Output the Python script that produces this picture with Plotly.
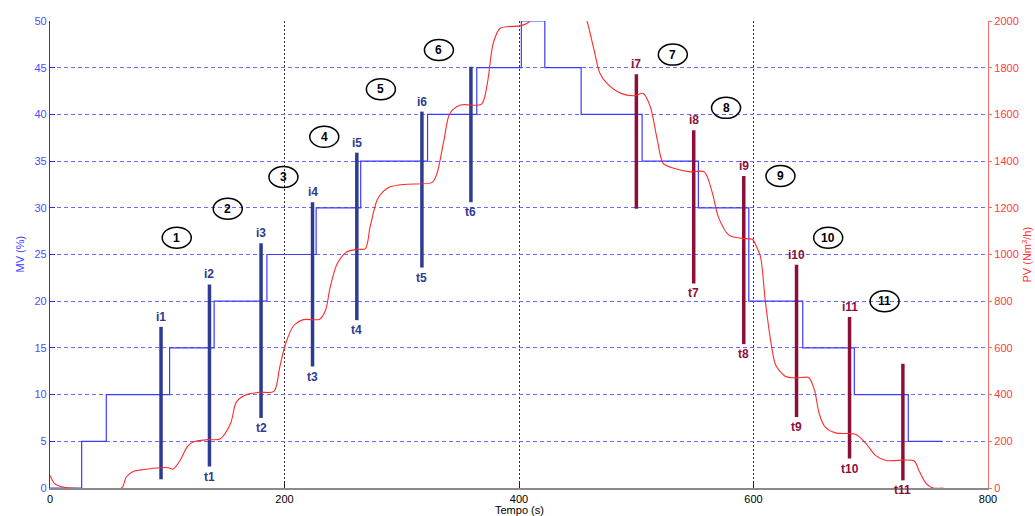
import plotly.graph_objects as go

# Manipulated variable (MV, %) — step changes over time
mv_t = [0, 27, 48, 102, 140, 185, 227, 265, 322, 364, 402, 422, 453, 505, 553, 596, 642, 686, 732, 761]
mv = [0, 5, 10, 15, 20, 25, 30, 35, 40, 45, 50, 45, 40, 35, 30, 20, 15, 10, 5, 5]

# Process variable (PV, Nm3/h) response
pv_t = [0, 4, 11, 17, 61, 65, 71, 80, 94, 101,
        105, 111, 117, 122, 134, 145, 154, 159, 168, 179,
        191, 196, 201, 208, 216, 230, 235, 239, 245, 253,
        262, 269, 273, 279, 284, 290, 304, 326, 330, 336,
        341, 350, 368, 373, 378, 384, 401, 407, 411, 420,
        432, 445, 452, 458, 464, 469, 475, 487, 498, 506,
        512, 518, 523, 532, 546, 558, 565, 570, 579, 590,
        599, 602, 606, 610, 615, 619, 627, 637, 647, 652,
        656, 661, 670, 687, 696, 704, 713, 737, 741, 747,
        753, 762]
pv = [54, 19, 4, 0, 0, 47, 71, 79, 87, 87,
      81, 119, 176, 197, 207, 210, 276, 369, 401, 410,
      414, 519, 619, 697, 721, 723, 761, 861, 961, 1011,
      1022, 1025, 1118, 1233, 1269, 1290, 1301, 1309, 1347, 1490,
      1604, 1640, 1644, 1733, 1905, 1969, 1979, 1990, 2010, 2080,
      2140, 2140, 2080, 2000, 1876, 1776, 1733, 1690, 1680, 1690,
      1633, 1490, 1390, 1369, 1354, 1354, 1262, 1161, 1083, 1069,
      1065, 1040, 990, 804, 619, 526, 479, 471, 473, 419,
      319, 262, 236, 230, 190, 140, 118, 116, 76, 21,
      0, 0]

# Marker bars: time, MV span, label above, label below, group
bar_t = [94.7, 136, 180, 223.9, 261.7, 317.2, 359, 500.1, 549, 591.7, 636.7, 681.9, 727.4]
bar_top = [17.25, 21.8, 26.2, 30.6, 35.9, 40.3, 45.1, 44.3, 38.3, 33.4, 23.9, 18.3, 13.3]
bar_bot = [0.93, 2.3, 7.5, 13.0, 17.97, 23.6, 30.6, 29.9, 21.9, 15.4, 7.6, 3.15, 0.82]
bar_top_lbl = ["i1", "i2", "i3", "i4", "i5", "i6", "", "i7", "i8", "i9", "i10", "i11", ""]
bar_bot_lbl = ["", "t1", "t2", "t3", "t4", "t5", "t6", "", "t7", "t8", "t9", "t10", "t11"]
bar_up = [True] * 7 + [False] * 6

# Circled stage numbers
stage_lbl = ["1", "2", "3", "4", "5", "6", "7", "8", "9", "10", "11"]
stage_t = [108.1, 151.6, 199.1, 233.9, 282.2, 331.7, 531.2, 576.6, 623.0, 663.7, 711.8]
stage_mv = [26.8, 29.9, 33.3, 37.6, 42.7, 46.9, 46.4, 40.7, 33.4, 26.8, 20.0]

x_ticks = [0, 200, 400, 600, 800]

BLUE_BAR = "#2e3b92"
RED_BAR = "#8c0f3a"
FONT = "Liberation Sans, Arial, sans-serif"

fig = go.Figure()

fig.add_trace(go.Scatter(x=mv_t, y=mv, mode="lines", line=dict(color="#3b3bff", width=1.2, shape="hv"),
                         yaxis="y", showlegend=False, hoverinfo="skip"))
fig.add_trace(go.Scatter(x=pv_t, y=pv, mode="lines",
                         line=dict(color="#ff2b2b", width=1.1, shape="spline", smoothing=0.8),
                         yaxis="y2", showlegend=False, hoverinfo="skip"))

annotations = []
for t, top, bot, lt, lb, up in zip(bar_t, bar_top, bar_bot, bar_top_lbl, bar_bot_lbl, bar_up):
    c = BLUE_BAR if up else RED_BAR
    fig.add_trace(go.Scatter(x=[t, t], y=[bot, top], mode="lines", line=dict(color=c, width=3.5),
                             yaxis="y", showlegend=False, hoverinfo="skip"))
    if lt:
        annotations.append(dict(x=t, y=top, xref="x", yref="y", text=f"<b>{lt}</b>", showarrow=False,
                                yanchor="bottom", yshift=1, font=dict(size=12, color=c, family=FONT)))
    if lb:
        annotations.append(dict(x=t, y=bot, xref="x", yref="y", text=f"<b>{lb}</b>", showarrow=False,
                                yanchor="top", yshift=-1, font=dict(size=12, color=c, family=FONT)))

shapes = []
for s, t, m in zip(stage_lbl, stage_t, stage_mv):
    shapes.append(dict(type="circle", xref="x", yref="y", xsizemode="pixel", ysizemode="pixel",
                       xanchor=t, yanchor=m, x0=-14.5, x1=14.5, y0=-10.5, y1=10.5,
                       line=dict(color="black", width=1.5), fillcolor="rgba(0,0,0,0)"))
    annotations.append(dict(x=t, y=m, xref="x", yref="y", text=f"<b>{s}</b>", showarrow=False,
                            font=dict(size=12, color="black", family=FONT)))

# Axis titles
annotations.append(dict(x=0, y=0.5, xref="paper", yref="paper", xanchor="center", yanchor="middle",
                        xshift=-31, text="MV (%)", textangle=-90, showarrow=False,
                        font=dict(size=11, color="#3b3bff", family=FONT)))
annotations.append(dict(x=1, y=0.5, xref="paper", yref="paper", xanchor="center", yanchor="middle",
                        xshift=38, text="PV (Nm<sup>3</sup>/h)", textangle=-90, showarrow=False,
                        font=dict(size=11, color="#ff3030", family=FONT)))
annotations.append(dict(x=0.5, y=0, xref="paper", yref="paper", xanchor="center", yanchor="middle",
                        yshift=-22, text="Tempo (s)", showarrow=False,
                        font=dict(size=11, color="black", family=FONT)))

fig.update_layout(
    width=1035, height=516,
    margin=dict(l=50, r=47, t=21, b=28),
    paper_bgcolor="white", plot_bgcolor="white",
    font=dict(family=FONT),
    xaxis=dict(range=[0, 800], tickvals=x_ticks, ticktext=[str(v) for v in x_ticks],
               showgrid=True, gridcolor="#303030", griddash="2px,2px", gridwidth=1,
               showline=True, linecolor="#8a8a8a", linewidth=2, zeroline=False,
               ticks="inside", ticklen=5, tickcolor="#202020", ticklabelstandoff=0,
               tickfont=dict(size=11, color="black", family=FONT)),
    yaxis=dict(range=[0, 50], dtick=5, showgrid=True, gridcolor="#6a6aff", griddash="4px,3px", gridwidth=1.2,
               showline=True, linecolor="#2b2bff", linewidth=1.2, zeroline=False,
               ticks="inside", ticklen=5, tickcolor="#2b2bff",
               tickfont=dict(size=11, color="#4d4dff", family=FONT)),
    yaxis2=dict(range=[0, 2000], dtick=200, overlaying="y", side="right", showgrid=False,
                showline=True, linecolor="#ff6a6a", linewidth=1.2, zeroline=False,
                ticks="outside", ticklen=3, tickcolor="#ff6a6a",
                tickfont=dict(size=11, color="#ff3a3a", family=FONT)),
    shapes=shapes,
    annotations=annotations,
)

fig.write_html("out.html")
